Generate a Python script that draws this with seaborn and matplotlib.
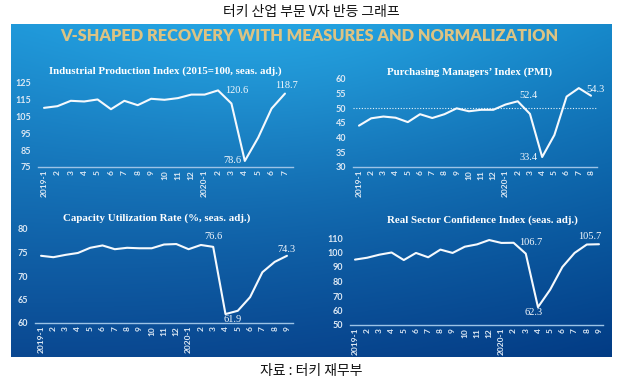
import numpy as np
import pandas as pd
import matplotlib
matplotlib.use('Agg')
import matplotlib.pyplot as plt
import seaborn as sns

# values (monthly, starting 2019-1)
ipi_values = [110.2, 111.2, 114.4, 114.0, 115.2, 109.4, 114.4, 111.8, 115.6, 115.0,
              116.0, 118.1, 118.1, 120.6, 112.8, 78.6, 92.5, 109.8, 118.7]
pmi_values = [44.1, 46.6, 47.2, 46.8, 45.3, 48.0, 46.7, 48.0, 50.0, 49.0,
              49.5, 49.5, 51.3, 52.4, 48.1, 33.4, 40.9, 54.0, 56.9, 54.3]
cap_values = [74.3, 74.0, 74.5, 74.9, 76.0, 76.5, 75.7, 76.0, 75.9, 75.9,
              76.7, 76.8, 75.7, 76.6, 76.2, 61.9, 62.6, 65.5, 70.8, 73.0, 74.3]
rsc_values = [95.1, 96.4, 98.5, 100.0, 94.8, 99.7, 96.7, 102.0, 99.7, 104.0,
              105.6, 108.6, 106.6, 106.7, 99.2, 62.3, 74.4, 90.0, 99.7, 105.5, 105.7]

ipi_ticks = [75, 85, 95, 105, 115, 125]
pmi_ticks = [30, 35, 40, 45, 50, 55, 60]
cap_ticks = [60, 65, 70, 75, 80]
rsc_ticks = [50, 60, 70, 80, 90, 100, 110]

ipi_title = 'Industrial Production Index (2015=100, seas. adj.)'
pmi_title = 'Purchasing Managers\u2019 Index (PMI)'
cap_title = 'Capacity Utilization Rate (%, seas. adj.)'
rsc_title = 'Real Sector Confidence Index (seas. adj.)'

LINE = '#f5f9fd'
TICK = '#dce8f4'
AXIS = '#9cc3e6'
GOLD = '#dcc383'
W, H = 619, 386


def month_labels(n):
    labels = []
    for i in range(n):
        year, month = 2019 + i // 12, i % 12 + 1
        labels.append(f'{year}-1' if month == 1 else str(month))
    return labels


def px_axes(fig, x0, x1, y_top, y_bot):
    return fig.add_axes([x0 / W, 1 - y_bot / H, (x1 - x0) / W, (y_bot - y_top) / H])


def draw_panel(ax, values, ticks, xpad, notes, ref=None):
    df = pd.DataFrame({'x': range(len(values)), 'y': values})
    if ref is not None:
        ax.axhline(ref, color='white', lw=0.8, ls=(0, (1, 1.5)), alpha=0.9)
    sns.lineplot(data=df, x='x', y='y', ax=ax, color=LINE, linewidth=1.5)
    ax.set_facecolor('none')
    ax.set_xlim(-xpad[0], len(values) - 1 + xpad[1])
    ax.set_ylim(ticks[0], ticks[-1])
    ax.set_yticks(ticks)
    ax.set_xticks(range(len(values)))
    ax.set_xticklabels(month_labels(len(values)), rotation=90, va='top')
    ax.set_xlabel('')
    ax.set_ylabel('')
    for s in ['top', 'right', 'left']:
        ax.spines[s].set_visible(False)
    ax.spines['bottom'].set_color(AXIS)
    ax.spines['bottom'].set_linewidth(1.0)
    ax.tick_params(length=0, colors=TICK)
    ax.tick_params(axis='y', pad=5, labelsize=6.5)
    ax.tick_params(axis='x', pad=2, labelsize=6)
    for lab in ax.get_xticklabels() + ax.get_yticklabels():
        lab.set_fontweight('bold')
        lab.set_family('Lato')
    for idx, dx, dy, ha, va in notes:
        ax.annotate(f'{values[idx]:.1f}', (idx, values[idx]), xytext=(dx, dy),
                    textcoords='offset pixels', ha=ha, va=va, color=LINE,
                    fontsize=7.5, family='Liberation Serif')


sns.set_style('white')
plt.rcParams['font.family'] = ['Noto Sans CJK KR', 'DejaVu Sans']

fig = plt.figure(figsize=(W / 100, H / 100), dpi=100)
fig.patch.set_facecolor('white')

# blue panel background
bg = fig.add_axes([11 / W, 1 - 357 / H, 601 / W, 333 / H])
yy, xx = np.mgrid[0:1:200j, 0:1:360j]
top = np.array([28, 145, 212]) / 255
bot = np.array([10, 72, 145]) / 255
img = top * (1 - yy[..., None]) + bot * yy[..., None]
glow = np.exp(-(((xx - 0.45) / 0.45) ** 2 + (yy / 0.45) ** 2))[..., None]
img = img + glow * np.array([0.04, 0.08, 0.06])
img = img - (xx[..., None] ** 2) * np.array([0.03, 0.05, 0.05])
bg.imshow(np.clip(img, 0, 1), aspect='auto', extent=[0, 1, 0, 1])
bg.axis('off')

fig.text(311 / W, 1 - 12 / H, '터키 산업 부문 V자 반등 그래프', ha='center', va='center',
         fontsize=10, color='#111111')
fig.text(309 / W, 1 - 36 / H, 'V-SHAPED RECOVERY WITH MEASURES AND NORMALIZATION',
         ha='center', va='center', fontsize=11.8, color=GOLD, family='Lato', weight='heavy')
fig.text(311 / W, 1 - 371 / H, '자료 : 터키 재무부', ha='center', va='center',
         fontsize=10, color='#111111')

ax1 = px_axes(fig, 38, 293, 83, 167)
draw_panel(ax1, ipi_values, ipi_ticks, (0.45, 0.6),
           [(13, 7, 0, 'left', 'center'), (15, -3, 0, 'right', 'center'),
            (18, 2, 4, 'center', 'bottom')])
ax2 = px_axes(fig, 353, 597, 79, 167)
draw_panel(ax2, pmi_values, pmi_ticks, (0.49, 0.49),
           [(13, 2, 1, 'left', 'bottom'), (15, -5, 0, 'right', 'center'),
            (19, 4, 2, 'center', 'bottom')], ref=50)
ax3 = px_axes(fig, 35, 293, 229, 323)
draw_panel(ax3, cap_values, cap_ticks, (0.49, 0.49),
           [(13, 13, 4, 'center', 'bottom'), (15, -2, -1, 'left', 'top'),
            (20, -1, 2, 'center', 'bottom')])
ax4 = px_axes(fig, 350, 603, 238, 325)
draw_panel(ax4, rsc_values, rsc_ticks, (0.41, 0.33),
           [(13, 6, 0, 'left', 'center'), (15, -4, -1, 'center', 'top'),
            (20, -9, 3, 'center', 'bottom')])

for x, y, t in [(165, 71, ipi_title), (470, 72, pmi_title),
                (157, 218, cap_title), (482, 220, rsc_title)]:
    fig.text(x / W, 1 - y / H, t, ha='center', va='center', fontsize=7.8,
             color='white', weight='bold', family='Liberation Serif')

fig.savefig('out.png', dpi=100)
